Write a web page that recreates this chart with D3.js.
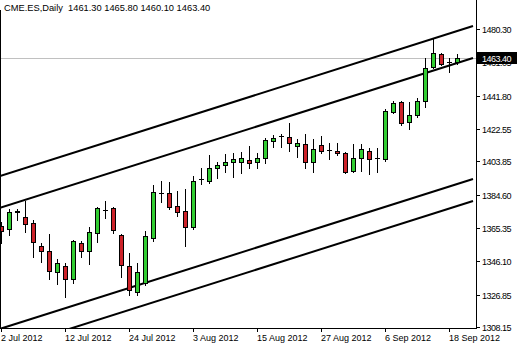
<!DOCTYPE html>
<html><head><meta charset="utf-8">
<script src="https://cdn.jsdelivr.net/npm/d3@7"></script>
<style>
body{margin:0;background:#fff}
svg{display:block}
text{font-family:"Liberation Sans",Arial,sans-serif}
</style>
</head><body><svg id="c" width="517" height="346"></svg>
<script>
const symbol = "CME.ES,Daily";
const dates = ["2012-07-02","2012-07-03","2012-07-04","2012-07-05","2012-07-06","2012-07-09","2012-07-10","2012-07-11","2012-07-12","2012-07-13",
"2012-07-16","2012-07-17","2012-07-18","2012-07-19","2012-07-20","2012-07-23","2012-07-24","2012-07-25","2012-07-26","2012-07-27",
"2012-07-30","2012-07-31","2012-08-01","2012-08-02","2012-08-03","2012-08-06","2012-08-07","2012-08-08","2012-08-09","2012-08-10",
"2012-08-13","2012-08-14","2012-08-15","2012-08-16","2012-08-17","2012-08-20","2012-08-21","2012-08-22","2012-08-23","2012-08-24",
"2012-08-27","2012-08-28","2012-08-29","2012-08-30","2012-08-31","2012-09-03","2012-09-04","2012-09-05","2012-09-06","2012-09-07",
"2012-09-10","2012-09-11","2012-09-12","2012-09-13","2012-09-14","2012-09-17","2012-09-18","2012-09-19"];
const open = [1366.5,1364.75,1374.6,1371.7,1368.25,1354.95,1352.05,1339.9,1343.4,1335.9,
1356.7,1352.05,1362.45,1375.5,1376.9,1361.3,1343.4,1328.35,1333.55,1359.55,
1385.8,1385.55,1378.05,1375.15,1365.9,1393.4,1392.5,1400.0,1401.75,1403.45,
1403.45,1404.65,1403.45,1405.8,1415.6,1418.3,1417.9,1412.7,1413.85,1403.45,
1413.3,1410.2,1409.85,1408.65,1398.25,1405.8,1409.85,1405.6,1405.2,1432.35,
1438.15,1426.6,1430.6,1438.7,1458.35,1465.85,1461.5,1461.3];
const high = [1368.8,1376.3,1376.3,1380.95,1369.95,1356.7,1361.9,1347.45,1345.1,1358.4,
1357.85,1365.9,1377.45,1380.95,1377.45,1361.9,1350.9,1345.1,1363.6,1390.2,
1392.5,1391.9,1386.7,1387.85,1395.4,1400.0,1407.5,1403.45,1408.1,1408.65,
1409.25,1412.7,1408.65,1417.35,1419.05,1419.65,1426.0,1416.75,1419.65,1416.75,
1418.5,1414.45,1414.45,1409.25,1413.85,1413.85,1411.55,1411.55,1434.1,1438.7,
1438.7,1438.15,1440.45,1463.55,1475.1,1466.45,1463.55,1465.8];
const low = [1356.7,1361.3,1369.95,1363.05,1348.6,1345.7,1335.9,1333.0,1325.5,1333.55,
1348.6,1344.55,1357.25,1371.1,1362.45,1337.05,1326.65,1326.65,1332.4,1357.85,
1380.35,1376.3,1372.25,1354.95,1364.75,1390.75,1391.35,1394.25,1397.7,1394.8,
1397.1,1400.0,1400.0,1402.9,1412.15,1412.15,1409.85,1406.35,1400.0,1397.7,
1408.65,1405.2,1407.5,1397.1,1397.7,1398.25,1396.55,1397.7,1404.05,1431.8,
1424.85,1422.55,1429.45,1435.25,1457.8,1459.5,1455.45,1460.1];
const close = [1363.6,1374.6,1374.9,1367.65,1357.25,1352.05,1340.5,1345.1,1335.9,1357.85,
1352.05,1363.05,1376.9,1375.9,1364.2,1344.0,1329.5,1339.9,1360.7,1386.15,
1385.4,1377.45,1374.6,1365.9,1392.5,1393.9,1400.0,1401.75,1403.45,1405.2,
1405.8,1402.9,1405.8,1416.2,1417.35,1418.7,1414.45,1414.45,1403.45,1411.0,
1409.85,1410.6,1408.65,1397.7,1405.8,1411.0,1405.2,1405.8,1432.95,1437.55,
1426.0,1430.6,1438.7,1457.8,1466.45,1460.1,1461.3,1463.4];
const yTickValues = [1480.30,1461.05,1441.80,1422.55,1403.85,1384.60,1365.35,1346.10,1326.85,1308.15];
const xTickDates = ["2012-07-02","2012-07-12","2012-07-24","2012-08-03","2012-08-15","2012-08-27","2012-09-06","2012-09-18"];
const xTickLabels = ["2 Jul 2012","12 Jul 2012","24 Jul 2012","3 Aug 2012","15 Aug 2012","27 Aug 2012","6 Sep 2012","18 Sep 2012"];
// channel lines: [bar index, price] anchors
const channelStart = [-0.125, -0.125, -0.125, -0.125];
const channelStartPrice = [1395.4, 1376.95, 1307.05, 1294.35];
const channelEnd = [59, 59, 59, 59];
const channelEndPrice = [1482.0, 1463.55, 1393.65, 1380.95];
const lastPrice = 1463.40;

const svg = d3.select("#c");
const W = 517, H = 346, plotR = 476, plotB = 328;
const x = d3.scaleLinear().domain([-0.125, 59.375]).range([0, plotR]);
const y = d3.scaleLinear().domain([1308.15, 1480.30]).range([327, 29]);

svg.append("rect").attr("width", W).attr("height", H).attr("fill", "#fff");
svg.append("defs").append("clipPath").attr("id", "clip")
  .append("rect").attr("x", 0).attr("y", 0).attr("width", plotR).attr("height", plotB);

const plot = svg.append("g").attr("clip-path", "url(#clip)");

// last price line
const yp = Math.round(y(lastPrice));
plot.append("line").attr("x1", 0).attr("x2", plotR).attr("y1", yp + 0.5).attr("y2", yp + 0.5)
  .attr("stroke", "#c0c0c0").attr("stroke-width", 1);

// channel lines
const chans = channelStart.map((s, k) => ({i1: s, p1: channelStartPrice[k], i2: channelEnd[k], p2: channelEndPrice[k]}));
plot.selectAll("line.ch").data(chans).join("line").attr("class", "ch")
  .attr("x1", d => x(d.i1)).attr("y1", d => y(d.p1))
  .attr("x2", d => x(d.i2)).attr("y2", d => y(d.p2))
  .attr("stroke", "#000").attr("stroke-width", 2);

// candles
const bars = dates.map((d, i) => ({i, o: open[i], h: high[i], l: low[i], c: close[i]}));
const cg = plot.append("g").attr("shape-rendering", "crispEdges");
bars.forEach(b => {
  const cx = Math.round(x(b.i));
  const yh = Math.round(y(b.h)), yl = Math.round(y(b.l));
  cg.append("rect").attr("x", cx).attr("y", yh).attr("width", 1).attr("height", Math.max(1, yl - yh + 1)).attr("fill", "#000");
  const t = Math.round(y(Math.max(b.o, b.c))), bt = Math.round(y(Math.min(b.o, b.c)));
  const hgt = Math.max(1, bt - t + 1);
  cg.append("rect").attr("x", cx - 2).attr("y", t).attr("width", 5).attr("height", hgt).attr("fill", "#000");
  if (hgt > 2) {
    cg.append("rect").attr("x", cx - 1).attr("y", t + 1).attr("width", 3).attr("height", hgt - 2)
      .attr("fill", b.c >= b.o ? "#32cd32" : "#cc2229");
  }
});

// frame
const fg = svg.append("g").attr("shape-rendering", "crispEdges");
fg.append("line").attr("x1", 0.5).attr("x2", 0.5).attr("y1", 10).attr("y2", plotB + 1).attr("stroke", "#000");
fg.append("line").attr("x1", plotR + 0.5).attr("x2", plotR + 0.5).attr("y1", 0).attr("y2", plotB + 1).attr("stroke", "#000");
fg.append("line").attr("x1", 0).attr("x2", plotR + 1).attr("y1", plotB + 0.5).attr("y2", plotB + 0.5).attr("stroke", "#000");

// y axis ticks & labels
yTickValues.forEach(v => {
  const yy = Math.round(y(v));
  fg.append("line").attr("x1", plotR).attr("x2", plotR + 4).attr("y1", yy + 0.5).attr("y2", yy + 0.5).attr("stroke", "#000");
  svg.append("text").attr("x", 482).attr("y", yy + 3.5).attr("font-size", 9).attr("letter-spacing", -0.5)
    .attr("fill", "#000").text(v.toFixed(2));
});

// x axis ticks & labels
xTickDates.forEach((d, k) => {
  const cx = Math.round(x(dates.indexOf(d)));
  fg.append("line").attr("x1", cx + 0.5).attr("x2", cx + 0.5).attr("y1", plotB).attr("y2", plotB + 4).attr("stroke", "#000");
  svg.append("text").attr("x", cx).attr("y", 341).attr("font-size", 9).attr("fill", "#000").text(xTickLabels[k]);
});

// last price label
svg.append("rect").attr("x", 477).attr("y", yp - 6).attr("width", 40).attr("height", 12).attr("fill", "#000");
svg.append("text").attr("x", 482).attr("y", yp + 3.5).attr("font-size", 9).attr("letter-spacing", -0.5)
  .attr("fill", "#fff").text(lastPrice.toFixed(2));

// header
const last = bars[bars.length - 1];
svg.append("text").attr("x", 4).attr("y", 11).attr("font-size", 9.3).attr("fill", "#000")
  .attr("xml:space", "preserve").style("white-space", "pre")
  .text(`${symbol}  ${last.o.toFixed(2)} ${last.h.toFixed(2)} ${last.l.toFixed(2)} ${last.c.toFixed(2)}`);
</script>
</body></html>
